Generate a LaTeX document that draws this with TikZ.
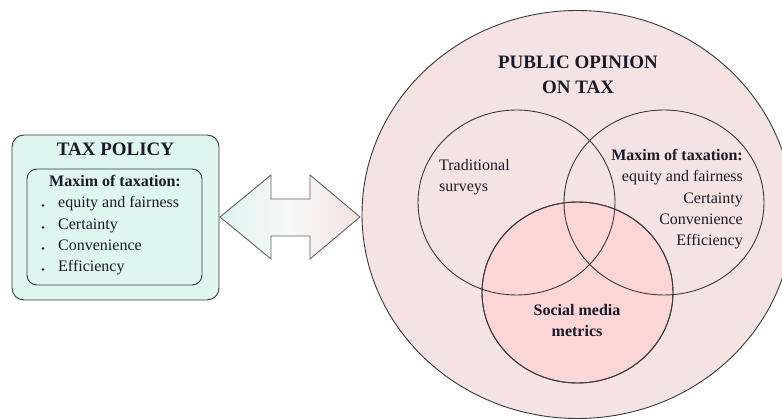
\documentclass[tikz,border=0pt]{standalone}
\usepackage{fontspec}
\setmainfont{Liberation Serif}
\usetikzlibrary{shapes.geometric}
\definecolor{mint}{HTML}{DFF5F0}
\definecolor{blush}{HTML}{F5E2E2}
\definecolor{rosy}{HTML}{FCD6D6}
\definecolor{edge}{HTML}{3A3A3A}
\definecolor{ink}{HTML}{1A1A2A}
\tikzset{
  x=1pt, y=-1pt,
  lbl/.style={inner sep=0pt, text=ink, font=\fontsize{16}{16}\selectfont, anchor=mid},
  lblb/.style={lbl, font=\fontsize{16}{16}\selectfont\bfseries},
  ttl/.style={inner sep=0pt, text=ink, font=\fontsize{19}{19}\selectfont\bfseries, anchor=mid},
  ring/.style={ellipse, draw=edge, line width=0.9pt, inner sep=0pt},
  boxo/.style={draw=edge, line width=0.9pt, rounded corners=12pt},
  bul/.style={circle, fill=ink, inner sep=0pt, minimum size=2.8pt},
}
\begin{document}
\begin{tikzpicture}
\useasboundingbox (0,0) rectangle (782,419);
% left box
\draw[boxo, fill=mint] (12,135) rectangle (219,300);
\draw[boxo, rounded corners=10pt] (27,169) rectangle (202,285);
\node[ttl] (tp) at (115.5,153) {TAX POLICY};
\node[lblb] (mx) at (115,184) {Maxim of taxation:};
\foreach \y/\t/\n in {205/equity and fairness/a, 227/Certainty/b, 248/Convenience/c, 269/Efficiency/d}{
  \node[bul] (b\n) at (43,\y+0.5) {};
  \node[lbl, anchor=mid west] (t\n) at (58,\y) {\t};
}
% double arrow
\shade[left color=mint, right color=blush, middle color=white!94!gray, draw=edge!80, line width=0.9pt]
  (220,217) -- (271,175) -- (271,199) -- (310,199) -- (310,175) -- (360,217)
  -- (310,259) -- (310,236) -- (271,236) -- (271,259) -- cycle;
% big circle
\node[ring, fill=blush, minimum width=431pt, minimum height=408pt] (big) at (577.5,214.5) {};
\node[ring, fill=rosy, minimum width=191pt, minimum height=181pt] (sm) at (577.5,292.5) {};
\node[ring, minimum width=197pt, minimum height=185pt] (ts) at (516.5,202.5) {};
\node[ring, minimum width=200pt, minimum height=185pt] (mt) at (664,202.5) {};
\node[ring, minimum width=191pt, minimum height=181pt] (sm2) at (577.5,292.5) {};
% texts
\node[ttl] (po1) at (578,66) {PUBLIC OPINION};
\node[ttl] (po2) at (578,91) {ON TAX};
\node[lbl, anchor=mid west] (tr1) at (439,168) {Traditional};
\node[lbl, anchor=mid west] (tr2) at (439,189) {surveys};
\node[lblb, anchor=mid east] (r1) at (743,158) {Maxim of taxation:};
\node[lbl, anchor=mid east] (r2) at (743,179) {equity and fairness};
\node[lbl, anchor=mid east] (r3) at (743,201) {Certainty};
\node[lbl, anchor=mid east] (r4) at (743,222) {Convenience};
\node[lbl, anchor=mid east] (r5) at (743,243) {Efficiency};
\node[lblb] (s1) at (577,313) {Social media};
\node[lblb] (s2) at (577,334) {metrics};
\end{tikzpicture}
\end{document}
